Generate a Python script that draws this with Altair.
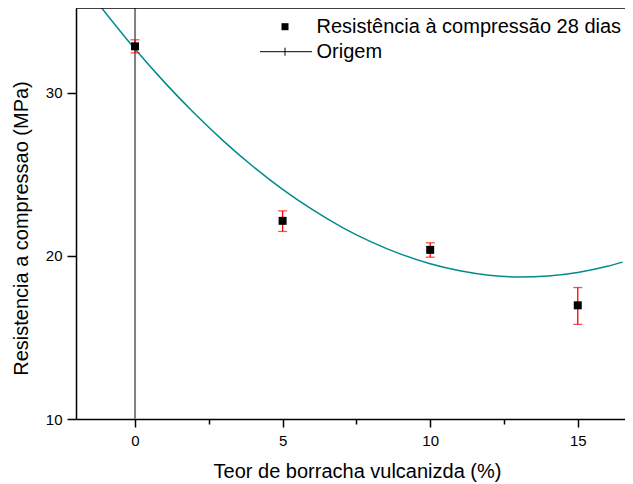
import altair as alt
import pandas as pd

# ---- data ----
teor = [0, 5, 10, 15]
resist = [32.85, 22.15, 20.37, 16.97]
err_low = [32.45, 21.50, 19.92, 15.80]
err_high = [33.25, 22.76, 20.80, 18.06]

fit_x = [-1.13, 0, 1, 2, 3, 4, 5, 6, 7, 8, 9, 10, 11, 12, 13, 14, 15, 16, 16.52]
fit_y = [35.2, 32.68, 30.64, 28.76, 27.04, 25.48, 24.08, 22.85, 21.77, 20.86,
         20.11, 19.52, 19.09, 18.82, 18.71, 18.77, 18.98, 19.36, 19.62]

origem_x = [0]
x_ticks = [0, 2.5, 5, 7.5, 10, 12.5, 15]
y_ticks = [10, 20, 30]
legend_labels = ["Resistência à compressão 28 dias", "Origem"]
x_title = "Teor de borracha vulcanizda (%)"
y_title = "Resistencia a compressao (MPa)"

W, H = 549, 411
FONT = "Liberation Sans"

pts = pd.DataFrame({"x": teor, "y": resist, "lo": err_low, "hi": err_high})
fit = pd.DataFrame({"x": fit_x, "y": fit_y})
orig = pd.DataFrame({"x": origem_x})
one = pd.DataFrame({"a": [0]})

xscale = alt.Scale(domain=[-2, 16.6], nice=False, zero=False)
yscale = alt.Scale(domain=[10, 35.2], nice=False, zero=False)

xaxis = alt.Axis(
    values=x_ticks, title=x_title, grid=False,
    labelExpr="datum.value % 5 === 0 ? datum.label : ''",
    tickSize={"condition": {"test": "datum.value % 5 === 0", "value": 8}, "value": 5},
    tickWidth=1.5, tickColor="black", domainColor="black", domainWidth=1.5,
    labelFont=FONT, labelFontSize=15, labelColor="black", labelPadding=6,
    titleFont=FONT, titleFontSize=20, titleFontWeight="normal", titleColor="black",
    titleX=281, titleY=58, titleBaseline="alphabetic",
)
yaxis = alt.Axis(
    values=y_ticks, title=y_title, grid=False,
    tickSize=9, tickWidth=1.5, tickColor="black", domainColor="black", domainWidth=1.5,
    labelFont=FONT, labelFontSize=15, labelColor="black", labelPadding=5,
    titleFont=FONT, titleFontSize=20, titleFontWeight="normal", titleColor="black",
    titleAngle=270, titleBaseline="alphabetic", titleX=-49, titleY=220,
)

X = alt.X("x:Q", scale=xscale, axis=xaxis)

curve = alt.Chart(fit).mark_line(color="#008B8B", strokeWidth=1.5, clip=True,
                                 interpolate="monotone").encode(
    x=X, y=alt.Y("y:Q", scale=yscale, axis=yaxis)
)
origin = alt.Chart(orig).mark_rule(color="#808080", strokeWidth=2).encode(
    x=X, y=alt.value(0), y2=alt.value(H)
)
bars = alt.Chart(pts).mark_rule(color="#ff0000", strokeWidth=1.3).encode(
    x=X, y=alt.Y("lo:Q", scale=yscale, axis=yaxis), y2="hi:Q"
)
cap_lo = alt.Chart(pts).mark_tick(color="#ff0000", orient="horizontal", size=9, thickness=1.3).encode(
    x=X, y=alt.Y("lo:Q", scale=yscale, axis=yaxis)
)
cap_hi = alt.Chart(pts).mark_tick(color="#ff0000", orient="horizontal", size=9, thickness=1.3).encode(
    x=X, y=alt.Y("hi:Q", scale=yscale, axis=yaxis)
)
squares = alt.Chart(pts).mark_square(color="black", size=64, opacity=1).encode(
    x=X, y=alt.Y("y:Q", scale=yscale, axis=yaxis)
)
top_frame = alt.Chart(one).mark_rule(color="black", strokeWidth=1.5).encode(
    x=alt.value(0), x2=alt.value(W), y=alt.value(0)
)

# ---- legend ----
leg_sq = alt.Chart(one).mark_square(color="black", size=49, opacity=1).encode(
    x=alt.value(209), y=alt.value(18.7)
)
leg_t1 = alt.Chart(pd.DataFrame({"label": [legend_labels[0]]})).mark_text(
    align="left", baseline="alphabetic", font=FONT, fontSize=20, color="black"
).encode(x=alt.value(240.5), y=alt.value(25.3), text="label:N")
leg_line = alt.Chart(one).mark_rule(color="black", strokeWidth=1).encode(
    x=alt.value(184), x2=alt.value(236), y=alt.value(43.7)
)
leg_cross = alt.Chart(one).mark_rule(color="black", strokeWidth=1).encode(
    x=alt.value(209), y=alt.value(39.7), y2=alt.value(47.7)
)
leg_t2 = alt.Chart(pd.DataFrame({"label": [legend_labels[1]]})).mark_text(
    align="left", baseline="alphabetic", font=FONT, fontSize=20, color="black"
).encode(x=alt.value(240.5), y=alt.value(49.5), text="label:N")

chart = alt.layer(
    origin, curve, bars, cap_lo, cap_hi, squares, top_frame,
    leg_sq, leg_t1, leg_line, leg_cross, leg_t2,
).properties(
    width=W, height=H,
    padding={"left": 68, "top": 0, "right": 0, "bottom": 65},
    autosize=alt.AutoSizeParams(type="none"),
    background="white",
).configure_view(stroke=None)

chart.save("out.html", embed_options={"renderer": "svg", "actions": False})
